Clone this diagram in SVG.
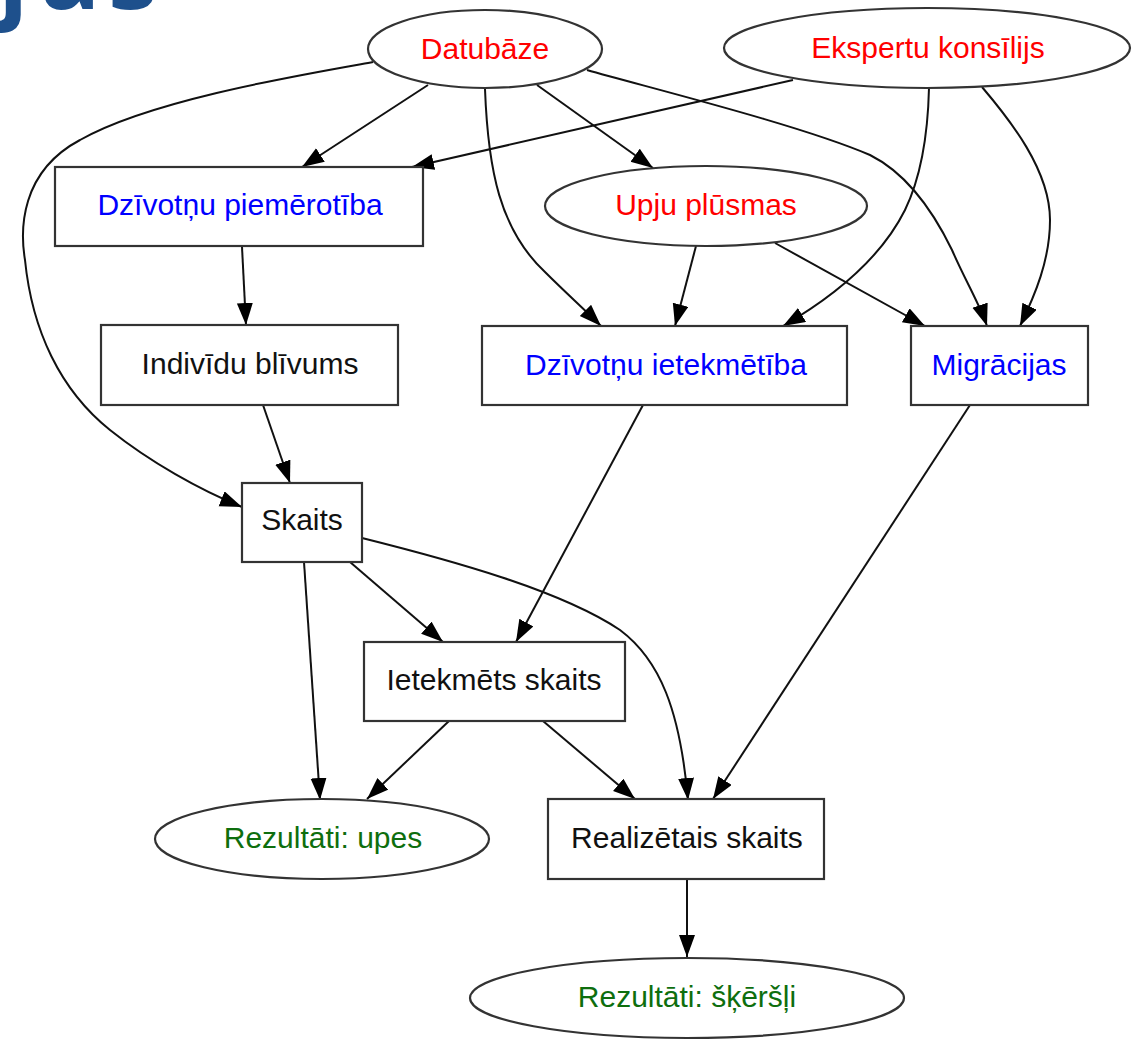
<svg xmlns="http://www.w3.org/2000/svg" width="1141" height="1040" viewBox="0 0 1141 1040">
<defs>
<marker id="arr" markerUnits="userSpaceOnUse" markerWidth="24" markerHeight="18" refX="22" refY="8" orient="auto">
<path d="M0,0 L22,8 L0,16 z" fill="#000"/>
</marker>
</defs>
<style>
.n{fill:#fff;stroke:#333;stroke-width:2.2}
.t{font-family:"Liberation Sans",Arial,sans-serif;font-size:30px;text-anchor:middle}
.red{fill:#ff0000}
.blue{fill:#0000ff}
.blk{fill:#111}
.grn{fill:#0e6e0e}
.e{fill:none;stroke:#111;stroke-width:2;marker-end:url(#arr)}
.title{font-family:"Open Sans","DejaVu Sans",sans-serif;font-weight:bold;font-size:100px;fill:#1e508c}
</style>
<rect width="1141" height="1040" fill="#fff"/>
<text class="title" x="-2 40 108" y="9">jas</text>
<g id="edges">
<path class="e" d="M428,85 L302,167"/>
<path class="e" d="M793,80 L412,167"/>
<path class="e" d="M373,62 C300,75 150,100 80,140 C20,172 20,230 25,260 C32,330 60,390 110,430 C150,462 200,490 242,507"/>
<path class="e" d="M537,85 L653,168"/>
<path class="e" d="M485,89 C488,170 500,230 545,272 C565,292 585,310 601,326"/>
<path class="e" d="M587,70 C650,88 800,125 870,155 C910,175 935,215 952,250 C965,280 980,305 987,326"/>
<path class="e" d="M929,88 C928,130 922,175 905,210 C885,250 845,290 783,326"/>
<path class="e" d="M982,87 C1010,120 1050,170 1050,220 C1050,260 1035,295 1020,326"/>
<path class="e" d="M696,246 L675,326"/>
<path class="e" d="M775,243 L925,326"/>
<path class="e" d="M242,247 L246,325"/>
<path class="e" d="M263,405 L290,483"/>
<path class="e" d="M643,405 L516,642"/>
<path class="e" d="M970,405 L713,799"/>
<path class="e" d="M350,562 L443,642"/>
<path class="e" d="M304,562 L320,800"/>
<path class="e" d="M362,538 C450,560 560,590 620,630 C660,660 680,710 688,800"/>
<path class="e" d="M449,721 L367,799"/>
<path class="e" d="M543,721 L635,799"/>
<path class="e" d="M687,879 L687,957"/>
</g>
<g id="datubaze"><ellipse class="n" cx="485" cy="49" rx="117" ry="39"/><text class="t red" x="485" y="59">Datubāze</text></g>
<g id="eksperti"><ellipse class="n" cx="927" cy="48" rx="203" ry="40"/><text class="t red" x="928" y="58">Ekspertu konsīlijs</text></g>
<g id="dz_piemerotiba"><rect class="n" x="55" y="167" width="368" height="79"/><text class="t blue" x="240" y="215">Dzīvotņu piemērotība</text></g>
<g id="upju_plusmas"><ellipse class="n" cx="706" cy="206" rx="161" ry="40"/><text class="t red" x="706" y="215">Upju plūsmas</text></g>
<g id="individu_blivums"><rect class="n" x="101" y="325" width="297" height="80"/><text class="t blk" x="250" y="374">Indivīdu blīvums</text></g>
<g id="dz_ietekmetiba"><rect class="n" x="482" y="326" width="365" height="79"/><text class="t blue" x="666" y="375">Dzīvotņu ietekmētība</text></g>
<g id="migracijas"><rect class="n" x="911" y="326" width="177" height="79"/><text class="t blue" x="999" y="375">Migrācijas</text></g>
<g id="skaits"><rect class="n" x="242" y="483" width="120" height="79"/><text class="t blk" x="302" y="530">Skaits</text></g>
<g id="ietekmets_skaits"><rect class="n" x="364" y="642" width="261" height="79"/><text class="t blk" x="494" y="690">Ietekmēts skaits</text></g>
<g id="rez_upes"><ellipse class="n" cx="322" cy="839" rx="167" ry="40"/><text class="t grn" x="323" y="848">Rezultāti: upes</text></g>
<g id="realizetais_skaits"><rect class="n" x="548" y="799" width="276" height="80"/><text class="t blk" x="687" y="848">Realizētais skaits</text></g>
<g id="rez_skersli"><ellipse class="n" cx="687" cy="998" rx="217" ry="40"/><text class="t grn" x="687" y="1007">Rezultāti: šķēršļi</text></g>
</svg>
